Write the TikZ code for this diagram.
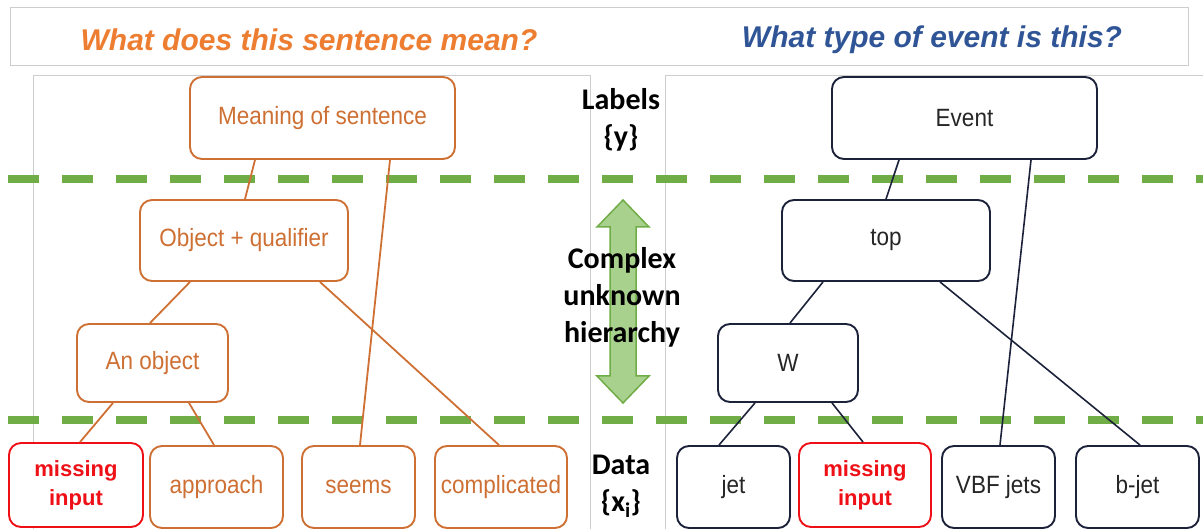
\documentclass[tikz,border=0pt]{standalone}
\usepackage{fontspec}
\setmainfont{Liberation Sans}
\newfontfamily\calibri{Carlito}
\newfontfamily\knotenfont[FakeStretch=0.9]{Liberation Sans}
\definecolor{satzorange}{RGB}{206,112,52}
\definecolor{titelorange}{RGB}{237,125,49}
\definecolor{titelblau}{RGB}{47,85,151}
\definecolor{eventnavy}{RGB}{28,34,58}
\definecolor{fehlrot}{RGB}{238,16,22}
\definecolor{gruen}{RGB}{112,173,71}
\definecolor{hellgruen}{RGB}{169,209,142}
\definecolor{rahmen}{RGB}{205,205,205}
\begin{document}
\begin{tikzpicture}[x=1pt,y=-1pt,
		knoten/.style={draw, rounded corners=12pt, line width=1.9pt, fill=white, inner sep=0pt, align=center, font=\knotenfont\fontsize{25}{29}\selectfont},
		obox/.style={knoten, draw=satzorange, text=satzorange},
		bbox/.style={knoten, draw=eventnavy, text=black!85},
		rbox/.style={knoten, draw=fehlrot, text=fehlrot, font=\bfseries\fontsize{22}{29}\selectfont},
		oline/.style={draw=satzorange, line width=1.8pt},
		bline/.style={draw=eventnavy, line width=1.6pt},
		titel/.style={font=\bfseries\itshape\fontsize{30}{36}\selectfont},
		mitte/.style={align=center, font=\calibri\bfseries\fontsize{30}{37}\selectfont}]
		\useasboundingbox (0,0) rectangle (1203,529);
		
		% Kopfzeile
		\draw[rahmen, line width=1pt] (10,8) rectangle (1188,66);
		\node[titel, text=titelorange] (frage1) at (309,40) {What does this sentence mean?};
		\node[titel, text=titelblau] (frage2) at (932,40) {What type of event is this?};
		
		% Rahmen der Panels
		\draw[rahmen, line width=1pt] (33,529) -- (33,76) -- (590,76) -- (590,529);
		\draw[rahmen, line width=1pt] (665,529) -- (665,76) -- (1203,76);
		
		% gestrichelte Trennlinien
		\foreach \y in {179,420}
		\draw[gruen, line width=7.5pt, dash pattern=on 31pt off 23pt] (8,\y) -- (1203,\y);
		
		% Doppelpfeil
		\filldraw[fill=hellgruen, draw=gruen, line width=1.5pt] (623,200) -- (649,227) -- (636,227) -- (636,376) -- (649,376) -- (623,403) -- (597,376) -- (610,376) -- (610,227) -- (597,227) -- cycle;
		
		% Beschriftung Mitte
		\node[mitte] (labels) at (621,120) {Labels\\\{y\}};
		\node[mitte] (hier) at (622,297) {Complex\\unknown\\hierarchy};
		\node[mitte] (daten) at (621,486) {Data\\\{x\textsubscript{i}\}};
		
		% Satz (links)
		\node[obox, minimum width=265pt, minimum height=82pt] (meaning) at (322.5,118) {Meaning of sentence};
		\node[obox, minimum width=208pt, minimum height=81pt] (objq) at (244,240.5) {Object + qualifier};
		\node[obox, minimum width=151pt, minimum height=78pt] (anobj) at (152.5,363) {An object};
		\node[rbox, minimum width=134pt, minimum height=84pt] (miss1) at (76,485) {missing\\input};
		\node[obox, minimum width=133pt, minimum height=82pt] (appr) at (216.5,487) {approach};
		\node[obox, minimum width=113pt, minimum height=82pt] (seems) at (358.5,487) {seems};
		\node[obox, minimum width=132pt, minimum height=82pt] (compl) at (501,487) {complicated};
		
		\draw[oline] (meaning.south -| 255,0) -- (objq.north -| 245,0);
		\draw[oline] (meaning.south -| 390,0) -- (seems.north -| 360,0);
		\draw[oline] (objq.south -| 190,0) -- (anobj.north -| 150,0);
		\draw[oline] (objq.south -| 320,0) -- (compl.north -| 499,0);
		\draw[oline] (anobj.south -| 113,0) -- (miss1.north -| 80,0);
		\draw[oline] (anobj.south -| 189,0) -- (appr.north -| 214,0);
		
		% Ereignis (rechts)
		\node[bbox, minimum width=265pt, minimum height=82pt] (event) at (964.5,118) {Event};
		\node[bbox, minimum width=208pt, minimum height=81pt] (top) at (886,240.5) {top};
		\node[bbox, minimum width=140pt, minimum height=78pt] (wboson) at (788,363) {W};
		\node[bbox, minimum width=113pt, minimum height=82pt] (jet) at (733.5,487) {jet};
		\node[rbox, minimum width=132pt, minimum height=84pt] (miss2) at (865,485) {missing\\input};
		\node[bbox, minimum width=113pt, minimum height=82pt] (vbf) at (998.5,487) {VBF jets};
		\node[bbox, minimum width=123pt, minimum height=82pt] (bjet) at (1137.5,487) {b-jet};
		
		\draw[bline] (event.south -| 899,0) -- (top.north -| 886,0);
		\draw[bline] (event.south -| 1031,0) -- (vbf.north -| 1000,0);
		\draw[bline] (top.south -| 823,0) -- (wboson.north -| 790,0);
		\draw[bline] (top.south -| 940,0) -- (bjet.north -| 1140,0);
		\draw[bline] (wboson.south -| 755,0) -- (jet.north -| 719,0);
		\draw[bline] (wboson.south -| 832,0) -- (miss2.north -| 863,0);
	\end{tikzpicture}
\end{document}
